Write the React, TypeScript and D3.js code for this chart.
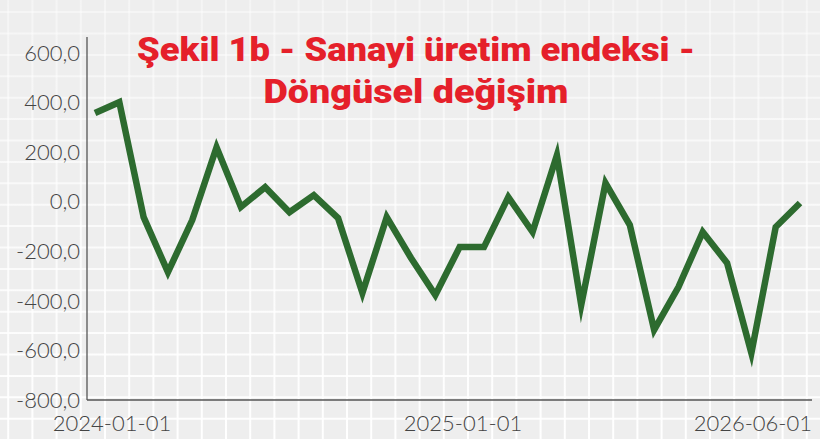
import * as d3 from 'd3';

// Monthly values, 2024-01 .. 2026-06
const months = d3.timeMonths(new Date(2024, 0, 1), new Date(2026, 6, 1)).map(d => d3.timeFormat('%Y-%m-%d')(d));
const values = [
  358, 402, -62, -284, -74, 220, -21, 59, -42, 27,
  -66, -368, -62, -227, -376, -183, -183, 19, -122, 188,
  -417, 75, -94, -517, -344, -122, -247, -611, -102, -5,
];
const yTicks = [600, 400, 200, 0, -200, -400, -600, -800];
const xTickLabels = ['2024-01-01', '2025-01-01', '2026-06-01'];
const titleLines = ['Şekil 1b - Sanayi üretim endeksi -', 'Döngüsel değişim'];

const width = 820;
const height = 441;
const plot = { left: 87, right: 812, top: 37, bottom: 400 };

const fmt = d3.formatLocale({
  decimal: ',',
  thousands: '.',
  grouping: [3],
  currency: ['', ''],
  minus: '-',
}).format('.1f');

export default function App() {
  const x = d3.scalePoint<string>().domain(months).range([95, 800]);
  const y = d3.scaleLinear().domain([-800, 665]).range([plot.bottom, plot.top]);

  const line = d3.line<number>()
    .x((_, i) => x(months[i])!)
    .y(d => y(d));

  // grid behind everything
  const vGrid = d3.range(8.2, width, 24.2);
  const hGrid = d3.range(12.1, height, 21.4);

  // label anchors along the x axis (as in the original layout)
  const xLabelPos = [
    { x: 112, anchor: 'middle' },
    { x: 463, anchor: 'middle' },
    { x: plot.right, anchor: 'end' },
  ];

  const axisFont = 'Lato, "Open Sans", sans-serif';

  return (
    <svg
      width={width}
      height={height}
      style={{ position: 'absolute', left: 0, top: 0, display: 'block' }}
    >
      <defs>
        <linearGradient id="gridFade" gradientUnits="userSpaceOnUse" x1={0} y1={0} x2={0} y2={height}>
          <stop offset="0" stopColor="#fff" stopOpacity={0.4} />
          <stop offset="1" stopColor="#fff" stopOpacity={1} />
        </linearGradient>
      </defs>
      <rect width={width} height={height} fill="#eeeeee" />
      <g stroke="url(#gridFade)" strokeWidth={2}>
        {vGrid.map((gx, i) => (
          <line key={'v' + i} x1={gx} x2={gx} y1={0} y2={height} />
        ))}
        {hGrid.map((gy, i) => (
          <line key={'h' + i} x1={0} x2={width} y1={gy} y2={gy} />
        ))}
      </g>

      {/* Axes */}
      <line x1={plot.left} x2={plot.left} y1={plot.top} y2={plot.bottom} stroke="#555" strokeWidth={1.3} />
      <line x1={plot.left} x2={plot.right} y1={plot.bottom} y2={plot.bottom} stroke="#555" strokeWidth={1.3} />

      {yTicks.map(t => (
        <text
          key={t}
          x={80}
          y={y(t)}
          dy="0.35em"
          textAnchor="end"
          fontFamily={axisFont}
          fontWeight={300}
          fontSize={22}
          fill="#444"
        >
          {fmt(t)}
        </text>
      ))}

      {xTickLabels.map((label, i) => (
        <text
          key={label}
          x={xLabelPos[i].x}
          y={431}
          textAnchor={xLabelPos[i].anchor}
          fontFamily={axisFont}
          fontWeight={300}
          fontSize={22}
          fill="#444"
        >
          {label}
        </text>
      ))}

      {/* Series */}
      <path
        d={line(values) || ''}
        fill="none"
        stroke="#2d6b2f"
        strokeWidth={6.5}
        strokeLinejoin="miter"
        strokeMiterlimit={10}
      />

      {/* Title */}
      <text
        x={416}
        y={61}
        textAnchor="middle"
        fontFamily="Roboto, sans-serif"
        fontWeight={900}
        fontSize={33}
        fill="#e5202a"
        textLength={558}
        lengthAdjust="spacingAndGlyphs"
      >
        {titleLines[0]}
      </text>
      <text
        x={416}
        y={103}
        textAnchor="middle"
        fontFamily="Roboto, sans-serif"
        fontWeight={900}
        fontSize={33}
        fill="#e5202a"
        textLength={305}
        lengthAdjust="spacingAndGlyphs"
      >
        {titleLines[1]}
      </text>
    </svg>
  );
}
